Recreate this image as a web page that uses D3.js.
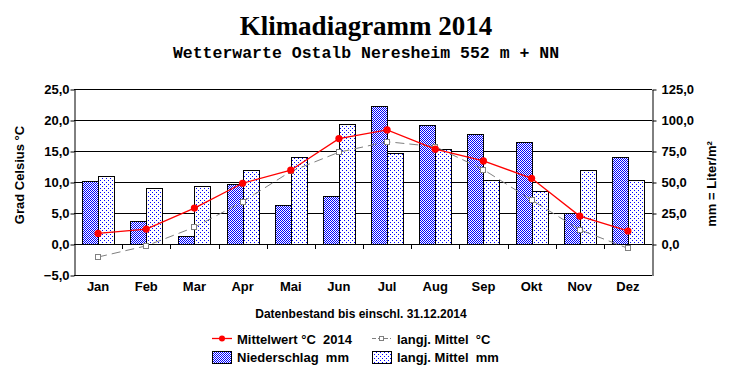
<!DOCTYPE html>
<html>
<head>
<meta charset="utf-8">
<script src="https://cdn.jsdelivr.net/npm/d3@7"></script>
<style>
  body { margin: 0; background: #fff; }
  text { font-family: "Liberation Sans", Arial, sans-serif; font-weight: bold; fill: #000; }
  .title { font-family: "Liberation Serif", "Times New Roman", serif; font-size: 27px; }
  .sub { font-family: "Liberation Mono", "Courier New", monospace; font-size: 16.5px; }
</style>
</head>
<body>
<svg id="chart" width="732" height="380"></svg>
<script>
// chart values
const months = ["Jan", "Feb", "Mar", "Apr", "Mai", "Jun", "Jul", "Aug", "Sep", "Okt", "Nov", "Dez"];
const temp2014 = [1.7, 2.4, 5.8, 9.8, 11.9, 17.0, 18.4, 15.3, 13.4, 10.6, 4.5, 2.1];
const tempMean = [-2.1, -0.3, 2.7, 6.8, 11.7, 14.8, 16.5, 15.7, 12.0, 7.1, 2.3, -0.7];
const rain2014 = [51, 18.3, 6.5, 48.4, 31.2, 38.4, 111.3, 96, 88.7, 82.3, 24.7, 69.9];
const rainMean = [54.6, 45.2, 46.8, 59.7, 69.9, 96.8, 73.4, 76.3, 51.6, 42.5, 59.7, 51.6];
const tempTicks = [-5, 0, 5, 10, 15, 20, 25];
const rainTicks = [0, 25, 50, 75, 100, 125];

const fmt = v => d3.format(".1f")(v).replace(".", ",");

const svg = d3.select("#chart");
const plotLeft = 74, plotRight = 652, plotTop = 89, plotBottom = 275;

const x = d3.scaleBand().domain(months).range([plotLeft, plotRight]);
const yT = d3.scaleLinear().domain([-5, 25]).range([plotBottom, plotTop]);
const yP = d3.scaleLinear().domain([-25, 125]).range([plotBottom, plotTop]);
const barW = 16;

// patterns
const defs = svg.append("defs");
const checker = defs.append("pattern").attr("id", "checker")
    .attr("width", 2).attr("height", 2).attr("patternUnits", "userSpaceOnUse");
checker.append("rect").attr("width", 2).attr("height", 2).attr("fill", "#fff");
checker.append("rect").attr("width", 1).attr("height", 1).attr("fill", "#0000ff");
checker.append("rect").attr("x", 1).attr("y", 1).attr("width", 1).attr("height", 1).attr("fill", "#0000ff");

const dots = defs.append("pattern").attr("id", "dots")
    .attr("width", 4).attr("height", 4).attr("patternUnits", "userSpaceOnUse");
dots.append("rect").attr("width", 4).attr("height", 4).attr("fill", "#fff");
dots.append("rect").attr("width", 1).attr("height", 1).attr("fill", "#0000ff");
dots.append("rect").attr("x", 2).attr("y", 2).attr("width", 1).attr("height", 1).attr("fill", "#0000ff");

// titles
svg.append("text").attr("class", "title").attr("x", 366).attr("y", 35)
    .attr("text-anchor", "middle").text("Klimadiagramm 2014");
svg.append("text").attr("class", "sub").attr("x", 366).attr("y", 58)
    .attr("text-anchor", "middle").text("Wetterwarte Ostalb Neresheim 552 m + NN");

// grid lines
svg.append("g").selectAll("line").data(tempTicks).enter().append("line")
    .attr("x1", plotLeft).attr("x2", plotRight)
    .attr("y1", d => Math.round(yT(d)) + 0.5).attr("y2", d => Math.round(yT(d)) + 0.5)
    .attr("stroke", "#000").attr("stroke-width", 1);

// left axis
const axL = svg.append("g").attr("transform", `translate(${plotLeft + 0.5},0.5)`)
    .call(d3.axisLeft(yT).tickValues(tempTicks).tickFormat(fmt).tickSize(4).tickSizeOuter(0).tickPadding(1));
axL.select(".domain").attr("stroke", "#000");
axL.selectAll("text").style("font-size", "13px").attr("fill", "#000");

// right axis
const axR = svg.append("g").attr("transform", `translate(${plotRight + 0.5},0.5)`)
    .call(d3.axisRight(yP).tickValues(rainTicks).tickFormat(fmt).tickSize(4).tickSizeOuter(0).tickPadding(5));
axR.select(".domain").attr("stroke", "#000");
axR.selectAll("text").style("font-size", "13px").attr("fill", "#000");

// category ticks below the zero line
svg.append("g").selectAll("line").data(months.slice(1)).enter().append("line")
    .attr("x1", d => Math.round(x(d)) + 0.5).attr("x2", d => Math.round(x(d)) + 0.5)
    .attr("y1", Math.round(yT(0))).attr("y2", Math.round(yT(0)) + 5)
    .attr("stroke", "#000");

// month labels
svg.append("g").selectAll("text").data(months).enter().append("text")
    .attr("x", d => x(d) + x.bandwidth() / 2).attr("y", 291)
    .attr("text-anchor", "middle").style("font-size", "13px").text(d => d);

// bars
const bars = svg.append("g");
bars.selectAll("rect.n").data(months).enter().append("rect").attr("class", "n")
    .attr("x", d => Math.round(x(d) + x.bandwidth() / 2 - barW) + 0.5)
    .attr("y", (d, i) => Math.round(yP(rain2014[i])) + 0.5)
    .attr("width", barW)
    .attr("height", (d, i) => Math.round(yP(0)) - Math.round(yP(rain2014[i])))
    .attr("fill", "url(#checker)").attr("stroke", "#000");
bars.selectAll("rect.l").data(months).enter().append("rect").attr("class", "l")
    .attr("x", d => Math.round(x(d) + x.bandwidth() / 2) + 0.5)
    .attr("y", (d, i) => Math.round(yP(rainMean[i])) + 0.5)
    .attr("width", barW)
    .attr("height", (d, i) => Math.round(yP(0)) - Math.round(yP(rainMean[i])))
    .attr("fill", "url(#dots)").attr("stroke", "#000");

const cx = d => x(d) + x.bandwidth() / 2;

// long term mean temperature
svg.append("path").datum(months)
    .attr("d", d3.line().x(cx).y((d, i) => yT(tempMean[i])))
    .attr("fill", "none").attr("stroke", "#808080").attr("stroke-width", 1)
    .attr("stroke-dasharray", "9,5");
svg.append("g").selectAll("rect").data(months).enter().append("rect")
    .attr("x", d => Math.round(cx(d)) - 2.5).attr("y", (d, i) => Math.round(yT(tempMean[i])) - 2.5)
    .attr("width", 5).attr("height", 5)
    .attr("fill", "#fff").attr("stroke", "#808080");

// 2014 temperature
svg.append("path").datum(months)
    .attr("d", d3.line().x(cx).y((d, i) => yT(temp2014[i])))
    .attr("fill", "none").attr("stroke", "#ff0000").attr("stroke-width", 1.3);
svg.append("g").selectAll("circle").data(months).enter().append("circle")
    .attr("cx", cx).attr("cy", (d, i) => yT(temp2014[i])).attr("r", 3.6)
    .attr("fill", "#ff0000");

// axis titles
svg.append("text").attr("transform", "translate(24,175) rotate(-90)")
    .attr("text-anchor", "middle").style("font-size", "13px").text("Grad Celsius °C");
svg.append("text").attr("transform", "translate(716,184) rotate(-90)")
    .attr("text-anchor", "middle").style("font-size", "13px").text("mm = Liter/m²");

svg.append("text").attr("x", 361).attr("y", 318).attr("text-anchor", "middle")
    .style("font-size", "12px").text("Datenbestand bis einschl. 31.12.2014");

// legend
const lg = svg.append("g").style("font-size", "13px");
lg.append("line").attr("x1", 212).attr("x2", 232).attr("y1", 338.5).attr("y2", 338.5)
    .attr("stroke", "#ff0000").attr("stroke-width", 1.3);
lg.append("circle").attr("cx", 222).attr("cy", 338.5).attr("r", 3).attr("fill", "#ff0000");
lg.append("text").attr("x", 237).attr("y", 344).attr("xml:space", "preserve").text("Mittelwert °C  2014");

lg.append("line").attr("x1", 372).attr("x2", 391).attr("y1", 338.5).attr("y2", 338.5)
    .attr("stroke", "#808080").attr("stroke-dasharray", "4,2");
lg.append("rect").attr("x", 379.5).attr("y", 336.5).attr("width", 4).attr("height", 4)
    .attr("fill", "#fff").attr("stroke", "#808080");
lg.append("text").attr("x", 397).attr("y", 344).attr("xml:space", "preserve").text("langj. Mittel  °C");

lg.append("rect").attr("x", 212.5).attr("y", 351.5).attr("width", 19).attr("height", 12)
    .attr("fill", "url(#checker)").attr("stroke", "#000");
lg.append("text").attr("x", 237).attr("y", 362).attr("xml:space", "preserve").text("Niederschlag  mm");

lg.append("rect").attr("x", 372.5).attr("y", 351.5).attr("width", 19).attr("height", 12)
    .attr("fill", "url(#dots)").attr("stroke", "#000");
lg.append("text").attr("x", 397).attr("y", 362).attr("xml:space", "preserve").text("langj. Mittel  mm");
</script>
</body>
</html>
